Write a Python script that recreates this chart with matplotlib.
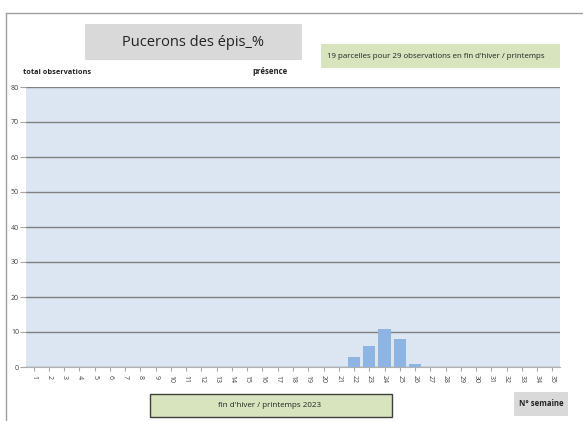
import matplotlib
matplotlib.use("Agg")
import matplotlib.pyplot as plt
from matplotlib.patches import Rectangle

weeks = list(range(1, 36))
values = [0]*21 + [3, 6, 11, 8, 1] + [0]*9
yticks = [0, 10, 20, 30, 40, 50, 60, 70, 80]

plt.rcParams["font.family"] = ["Open Sans", "DejaVu Sans"]

W, H = 583, 421
fig = plt.figure(figsize=(W/100, H/100), dpi=100)
fig.patch.set_facecolor("white")

def fx(x): return x / W
def fy(y): return 1 - y / H

# outer border
fig.add_artist(plt.Line2D([fx(6), fx(583)], [fy(13), fy(13)], color="#a0a0a0", lw=1.0))
fig.add_artist(plt.Line2D([fx(6), fx(6)], [fy(13), fy(421)], color="#a0a0a0", lw=1.0))

ax = fig.add_axes([fx(26), fy(367), fx(560) - fx(26), fy(87) - fy(367)])
ax.set_facecolor("#dce6f2")
ax.bar(weeks, values, width=0.8, color="#8db4e2", zorder=3)
ax.set_xlim(0.5, 35.5)
ax.set_ylim(0, 80)
ax.set_yticks(yticks)
ax.set_yticklabels([str(v) for v in yticks], fontsize=5, color="#404040")
ax.set_xticks(weeks)
ax.set_xticklabels([str(w) for w in weeks], fontsize=5, rotation=270, color="#404040")
ax.yaxis.grid(True, color="#808080", lw=1.0, zorder=1)
ax.set_axisbelow(True)
for s in ["left", "right", "top"]:
    ax.spines[s].set_visible(False)
ax.spines["bottom"].set_color("#b0b0b0")
ax.tick_params(axis="y", length=4, color="#a6a6a6", pad=1)
ax.tick_params(axis="x", length=3, color="#a6a6a6", pad=3)

# title box
fig.add_artist(Rectangle((fx(85), fy(60)), fx(302) - fx(85), fy(24) - fy(60),
                         facecolor="#d9d9d9", edgecolor="none", transform=fig.transFigure))
fig.text(fx(193), fy(42), "Pucerons des épis_%", fontsize=10.5, ha="center", va="center",
         color="#222222")

# green info box
fig.add_artist(Rectangle((fx(321), fy(68)), fx(560) - fx(321), fy(44) - fy(68),
                         facecolor="#d7e4bd", edgecolor="none", transform=fig.transFigure))
fig.text(fx(436), fy(56), "19 parcelles pour 29 observations en fin d'hiver / printemps",
         fontsize=5.7, ha="center", va="center", color="#222222")

fig.text(fx(23), fy(73), "total observations", fontsize=5.3, ha="left", va="center",
         weight="bold", color="#222222")
fig.text(fx(270), fy(72), "présence", fontsize=5.6, ha="center", va="center",
         weight="bold", color="#222222")

# bottom green box
fig.add_artist(Rectangle((fx(150), fy(417)), fx(392) - fx(150), fy(394) - fy(417),
                         facecolor="#d7e4bd", edgecolor="#404040", lw=1.0, transform=fig.transFigure))
fig.text(fx(270), fy(405.5), "fin d'hiver / printemps 2023", fontsize=5.8, ha="center",
         va="center", color="#222222")

# N° semaine box
fig.add_artist(Rectangle((fx(514), fy(416)), fx(568) - fx(514), fy(392) - fy(416),
                         facecolor="#d9d9d9", edgecolor="none", transform=fig.transFigure))
fig.text(fx(541), fy(404), "N° semaine", fontsize=5.6, ha="center", va="center",
         weight="bold", color="#222222")

fig.savefig("out.png", dpi=100)
